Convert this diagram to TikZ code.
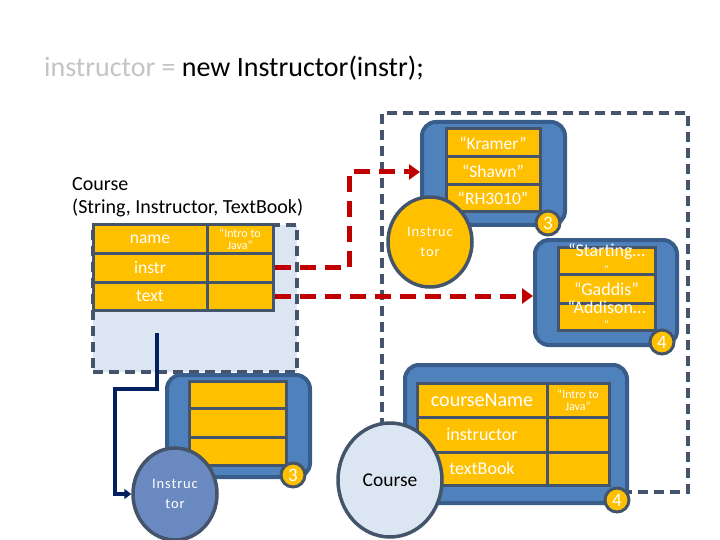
\documentclass[tikz,border=0pt]{standalone}
\usepackage{fontspec}
\setmainfont{Carlito}
\newfontfamily\spacedfont[LetterSpace=6]{Carlito}
\usetikzlibrary{arrows.meta,shapes.geometric}
\definecolor{objblue}{HTML}{4F81BD}
\definecolor{objedge}{HTML}{385D8A}
\definecolor{gold}{HTML}{FFC000}
\definecolor{slate}{HTML}{44546A}
\definecolor{paleblue}{HTML}{DCE6F3}
\definecolor{redline}{HTML}{C00000}
\definecolor{navy}{HTML}{002060}
\definecolor{texblue}{HTML}{6A89C0}
\definecolor{titlegray}{HTML}{C4C4C4}
\tikzset{
  objbox/.style={draw=objedge, fill=objblue, line width=4pt, rounded corners=14pt, inner sep=0pt},
  cell/.style={draw=slate, fill=gold, line width=3pt, inner sep=0pt, text=white},
  badge/.style={circle, draw=slate, fill=gold, line width=3pt, minimum size=24pt, inner sep=0pt, text=white, font=\fontsize{19}{19}\selectfont},
  dashbox/.style={draw=slate, line width=3.5pt, dash pattern=on 10pt off 6pt, inner sep=0pt},
  redarrow/.style={draw=redline, line width=5pt, dash pattern=on 16pt off 9pt, -{Triangle[length=11pt,width=15pt]}},
  navyarrow/.style={draw=navy, line width=3.5pt, -{Triangle[length=7pt,width=10pt]}},
  blob/.style={ellipse, draw=slate, line width=3.5pt, inner sep=0pt, align=center},
}
\begin{document}
\begin{tikzpicture}[x=1pt,y=-1pt]
\useasboundingbox (0,0) rectangle (720,540);
% title
\node[anchor=base west, inner sep=0pt, font=\fontsize{28}{28}\selectfont] (title) at (44,77)
  {\textcolor{titlegray}{instructor =} new Instructor(instr);};
% left local variable region
\node[dashbox, fill=paleblue, minimum width=204pt, minimum height=147pt] (courseVar) at (195,298.5) {};
% big dashed region
\node[dashbox, minimum width=306pt, minimum height=379pt] (heap) at (535,302.5) {};
% Course constructor label
\node[anchor=base west, align=left, inner sep=0pt, font=\fontsize{20}{23}\selectfont] (ctor) at (72,214)
  {Course\\(String, Instructor, TextBook)};
% left table
\begin{scope}[every node/.style={cell, minimum height=28pt}]
\node[minimum width=114pt, font=\fontsize{17.5}{17.5}\selectfont] (nameL) at (150,239) {name};
\node[minimum width=66pt, align=center, font=\fontsize{12}{12}\selectfont] (nameV) at (240,239) {“Intro to\\Java”};
\node[minimum width=114pt, minimum height=29pt, font=\fontsize{17.5}{17.5}\selectfont] (instrL) at (150,267.5) {instr};
\node[minimum width=66pt, minimum height=29pt] (instrV) at (240,267.5) {};
\node[minimum width=114pt, font=\fontsize{17.5}{17.5}\selectfont] (textL) at (150,296) {text};
\node[minimum width=66pt] (textV) at (240,296) {};
\end{scope}
% top instructor object
\node[objbox, minimum width=143pt, minimum height=103pt] (instrObj) at (493.5,173.5) {};
\begin{scope}[every node/.style={cell, minimum width=94pt, font=\fontsize{17.5}{17.5}\selectfont}]
\node[minimum height=28pt] (kramer) at (493,143) {“Kramer”};
\node[minimum height=28pt] (shawn) at (493,171) {“Shawn”};
\node[minimum height=27pt] (room) at (493,198.5) {“RH3010”};
\end{scope}
\node[badge] (badgeA) at (548,223) {3};
\node[blob, fill=gold, minimum width=84pt, minimum height=90pt, text=white, font=\spacedfont\fontsize{14.5}{20}\selectfont] (instrCirc) at (430,242) {Instruc\\tor};
% textbook object
\node[objbox, minimum width=142pt, minimum height=105pt] (bookObj) at (606,292.5) {};
\begin{scope}[every node/.style={cell, minimum width=97pt}]
\node[minimum height=27pt] (title1) at (606.5,260.5) {};
\node[minimum height=29pt] (author) at (606.5,288.5) {};
\node[minimum height=27pt] (publisher) at (606.5,316.5) {};
\end{scope}
\begin{scope}[every node/.style={text=white, inner sep=0pt, font=\fontsize{18}{18}\selectfont}]
\node (t1a) at (606.5,252) {“Starting…};
\node[font=\fontsize{11}{11}\selectfont] (t1b) at (606.5,270) {”};
\node (t2) at (606.5,289) {“Gaddis”};
\node (t3a) at (606.5,307) {“Addison…};
\node[font=\fontsize{11}{11}\selectfont] (t3b) at (606.5,325) {”};
\end{scope}
\node[badge] (badgeB) at (662,342) {4};
% red reference arrows
\draw[redarrow] (instrV.east) -- (349,267.5) -- (349,172) -- (instrObj.west |- 0,172);
\draw[redarrow] (textV.east) -- (textV.east -| bookObj.west);
% bottom-left instructor object
\node[objbox, minimum width=143pt, minimum height=102pt] (instrObj2) at (238.5,426) {};
\begin{scope}[every node/.style={cell, minimum width=97pt}]
\node[minimum height=27pt] (r1) at (237.5,394.5) {};
\node[minimum height=29pt] (r2) at (237.5,422.5) {};
\node[minimum height=28pt] (r3) at (237.5,451) {};
\end{scope}
\node[badge] (badgeC) at (293,475) {3};
\node[blob, fill=texblue, minimum width=84pt, minimum height=92pt, text=white, font=\spacedfont\fontsize{14.5}{20}\selectfont] (instrCirc2) at (175,494) {Instruc\\tor};
% navy connector
\coordinate (navyStart) at (157,333);
\draw[navyarrow] (navyStart) -- (157,389) -- (115,389) -- (115,494) -- (instrCirc2.west);
% bottom course object
\node[objbox, minimum width=222pt, minimum height=138pt] (courseObj) at (516,434) {};
\begin{scope}[every node/.style={cell}]
\node[minimum width=130pt, minimum height=34pt, font=\fontsize{20}{20}\selectfont] (cn) at (482,400) {courseName};
\node[minimum width=62pt, minimum height=34pt, align=center, font=\fontsize{12}{12}\selectfont] (cnV) at (578,400) {“Intro to\\Java”};
\node[minimum width=130pt, minimum height=35pt, font=\fontsize{18}{18}\selectfont] (ci) at (482,434.5) {instructor};
\node[minimum width=62pt, minimum height=35pt] (ciV) at (578,434.5) {};
\node[minimum width=130pt, minimum height=33pt, font=\fontsize{18}{18}\selectfont] (ct) at (482,468.5) {textBook};
\node[minimum width=62pt, minimum height=33pt] (ctV) at (578,468.5) {};
\end{scope}
\node[badge] (badgeD) at (617,500) {4};
\node[blob, fill=paleblue, minimum width=104pt, minimum height=114pt, font=\fontsize{19.5}{19.5}\selectfont] (courseCirc) at (390,480) {Course};
\end{tikzpicture}
\end{document}
